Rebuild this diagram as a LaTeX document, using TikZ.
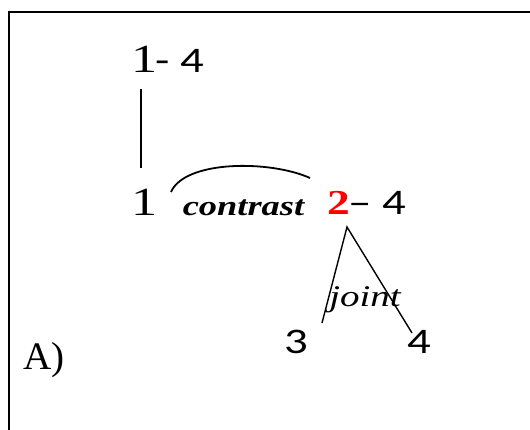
\documentclass[tikz,border=0pt]{standalone}
\usepackage{fontspec}
\setmainfont{Liberation Serif}
\newfontfamily\carlito{Carlito}
\usetikzlibrary{calc}
\definecolor{Ink}{HTML}{000000}
\definecolor{Nucleus}{HTML}{FF0000}
\newcommand{\wtext}[1]{\scalebox{1.3}[1]{#1}}

\begin{document}
\begin{tikzpicture}[x=1pt,y=-1pt,
    digit/.style={anchor=base,inner sep=0pt,text=Ink,font=\fontsize{40}{44}\selectfont},
    hub/.style={anchor=base,inner sep=0pt,text=Nucleus,font=\bfseries\fontsize{35}{40}\selectfont},
    span/.style={anchor=base west,inner sep=0pt,text=Ink,font=\carlito\fontsize{36}{40}\selectfont},
    leaf/.style={anchor=base,inner sep=0pt,text=Ink,font=\carlito\fontsize{36}{40}\selectfont},
    rel/.style={anchor=base,inner sep=0pt,text=Ink,font=\itshape\fontsize{30}{34}\selectfont},
    link/.style={Ink,line width=1.6pt}]
        \useasboundingbox (0,0) rectangle (530,430);
        \draw[Ink,line width=2.5pt] (9,430) -- (9,12) -- (530,12);
        % top span
        \node[digit] (top1) at (144.5,73) {\wtext{1}};
        \node[span] (top1r) at (155,73) {\wtext{- 4}};
        % middle row
        \node[digit] (mid1) at (144.5,216) {\wtext{1}};
        \node[rel,font=\bfseries\itshape\fontsize{28}{32}\selectfont] (contrast) at (243.5,216) {\wtext{contrast}};
        \node[hub] (two) at (338.5,215) {\wtext{2}};
        \node[span] (twor) at (348,215) {\wtext{– 4}};
        % leaves
        \node[rel] (joint) at (365,307) {\wtext{joint}};
        \node[leaf] (leaf3) at (296,353) {\wtext{3}};
        \node[leaf] (leaf4) at (419,353) {\wtext{4}};
        \node[anchor=base west,inner sep=0pt,font=\fontsize{39}{44}\selectfont] (panel) at (23,369) {A)};
        \coordinate (arcL) at (171,192);
        \coordinate (arcR) at (310,178);
        \coordinate (apex) at (347,227);
        \coordinate (footL) at (322,323);
        \coordinate (footR) at (412,333);
        \draw[link,shorten <=16pt,shorten >=21pt] ([xshift=-3.5pt]top1.south) -- ([xshift=-3.5pt]mid1.north);
        \draw[link,line width=1.8pt] (arcL) .. controls (185,160) and (270,160) .. (arcR);
        \draw[link,line width=1.4pt] (footL) -- (apex) -- (footR);
      \end{tikzpicture}
\end{document}
